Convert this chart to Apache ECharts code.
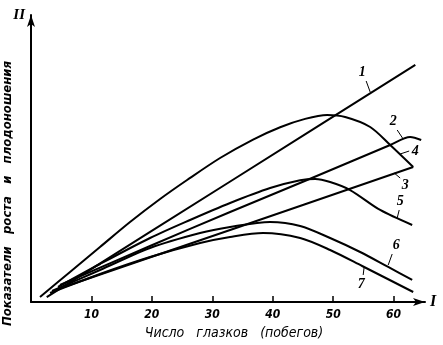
<!DOCTYPE html>
<html><head><meta charset="utf-8">
<script src="https://cdn.jsdelivr.net/npm/echarts@6/dist/echarts.min.js"></script>
<style>html,body{margin:0;padding:0;background:#fff}#c{width:443px;height:345px}</style>
</head><body><div id="c"></div>
<script>
// X ticks
const xTicks = [10, 20, 30, 40, 50, 60];
// Curves: [число глазков, показатель]
const curve1 = [[2.6,1.7],[32.9,41.9],[63.6,82.6]];
const curve2 = [[4.80,5.92],[19.70,19.51],[32.95,31.36],[45.70,42.51],[59.44,54.70],[62.75,57.49],[64.57,56.45]];
const curve3 = [[4.47,4.53],[32.95,25.09],[63.25,47.04]];
const curve4 = [[1.49,1.74],[6.46,10.45],[11.42,19.16],[16.39,27.87],[21.36,35.89],[25.83,42.51],[31.29,50.17],[36.75,56.6],[41.23,60.9],[45.36,63.8],[49.01,65.16],[51.99,64.46],[56.13,60.98],[59.44,54.70],[63.25,47.04]];
const curve5 = [[4.47,5.23],[11.42,13.24],[19.70,22.30],[26.32,28.57],[32.95,34.49],[39.57,39.7],[44.54,42.4],[47.02,42.86],[49.50,41.81],[52.81,39.02],[57.78,32.06],[63.08,26.83]];
const curve6 = [[3.48,3.83],[11.42,11.15],[19.70,18.82],[27.98,24.04],[32.95,26.13],[39.57,27.87],[44.54,26.48],[49.50,22.30],[54.47,17.42],[59.11,12.20],[63.08,7.67]];
const curve7 = [[3.15,3.14],[11.42,9.76],[19.70,15.68],[27.98,20.56],[32.95,22.65],[38.41,24.04],[44.54,22.30],[49.50,18.12],[54.80,12.54],[63.25,3.48]];
const curveNames = ['1','2','3','4','5','6','7'];
const curves = [curve1, curve2, curve3, curve4, curve5, curve6, curve7];
// annotation: label position and leader line (data coords)
const labelPos = [[54.8,80.1],[59.93,63.07],[61.92,40.77],[63.58,52.6],[61.09,35.19],[60.43,19.86],[54.64,6.27]];
const leaderFrom = [[55.46,77.0],[60.6,59.93],[61.09,43.2],[62.58,52.6],[60.93,32.06],[59.77,16.72],[54.97,9.41]];
const leaderTo = [[56.13,73.17],[61.59,56.79],[60.10,44.95],[61.09,51.57],[60.60,29.27],[59.11,12.89],[55.13,12.2]];

const serif = '"Liberation Serif", "DejaVu Serif", serif';
const cond = '"DejaVu Sans Condensed", "Liberation Sans Narrow", sans-serif';

const chart = echarts.init(document.getElementById('c'), null, {renderer:'canvas'});
const series = curves.map((d, i) => ({
  type: 'line', name: curveNames[i], data: d, smooth: 0.3, symbol: 'none',
  xAxisIndex: 0, yAxisIndex: 0,
  lineStyle: {color: '#000', width: 2},
  markLine: {
    silent: true, symbol: 'none', label: {show: false},
    lineStyle: {color: '#000', width: 1, type: 'solid'},
    data: [[{coord: leaderFrom[i]}, {coord: leaderTo[i]}]]
  },
  markPoint: {
    silent: true, symbol: 'circle', symbolSize: 0,
    label: {show: true, position: 'inside', formatter: curveNames[i], color: '#000',
      fontFamily: serif, fontStyle: 'italic', fontWeight: 'bold', fontSize: 14},
    data: [{coord: labelPos[i]}]
  }
}));

chart.setOption({
  animation: false,
  backgroundColor: '#fff',
  grid: {left: 31, right: 18, top: 15, bottom: 43, containLabel: false, outerBoundsMode: 'none'},
  xAxis: [{
    type: 'value', min: 0, max: 65.2, interval: 10,
    name: 'Число   глазков   (побегов)', nameLocation: 'middle', nameGap: 24,
    nameTextStyle: {color: '#000', fontFamily: cond, fontStyle: 'italic', fontSize: 14, padding: [0, 0, 0, 12]},
    axisLine: {show: true, lineStyle: {color: '#000', width: 2}, symbol: ['none', 'arrow'], symbolSize: [6, 12]},
    axisTick: {show: true, inside: true, length: 6, lineStyle: {color: '#000', width: 1.5}},
    axisLabel: {color: '#000', fontFamily: cond, fontStyle: 'italic', fontWeight: 'bold', fontSize: 12, margin: 7,
      showMaxLabel: false,
      formatter: v => (xTicks.indexOf(v) >= 0 ? String(v) : '')},
    splitLine: {show: false}
  }, {
    type: 'value', min: 0, max: 65.2, position: 'bottom',
    name: 'I', nameLocation: 'end', nameGap: 5,
    nameTextStyle: {color: '#000', fontFamily: serif, fontStyle: 'italic', fontWeight: 'bold', fontSize: 16, verticalAlign: 'middle'},
    axisLine: {show: false}, axisTick: {show: false}, axisLabel: {show: false}, splitLine: {show: false}
  }],
  yAxis: [{
    type: 'value', min: 0, max: 100,
    name: 'Показатели   роста   и   плодоношения', nameLocation: 'middle', nameRotate: 90, nameGap: 17,
    nameTextStyle: {color: '#000', fontFamily: cond, fontStyle: 'italic', fontWeight: 'bold', fontSize: 13, padding: [0, 70, 0, 0]},
    axisLine: {show: true, lineStyle: {color: '#000', width: 2}, symbol: ['none', 'arrow'], symbolSize: [6, 12]},
    axisTick: {show: false}, axisLabel: {show: false}, splitLine: {show: false}
  }, {
    type: 'value', min: 0, max: 100, position: 'left',
    name: 'II', nameLocation: 'end', nameGap: 0,
    nameTextStyle: {color: '#000', fontFamily: serif, fontStyle: 'italic', fontWeight: 'bold', fontSize: 15, align: 'right', verticalAlign: 'middle', padding: [0, 6, 6, 0]},
    axisLine: {show: false}, axisTick: {show: false}, axisLabel: {show: false}, splitLine: {show: false}
  }],
  series: series
});
</script></body></html>
